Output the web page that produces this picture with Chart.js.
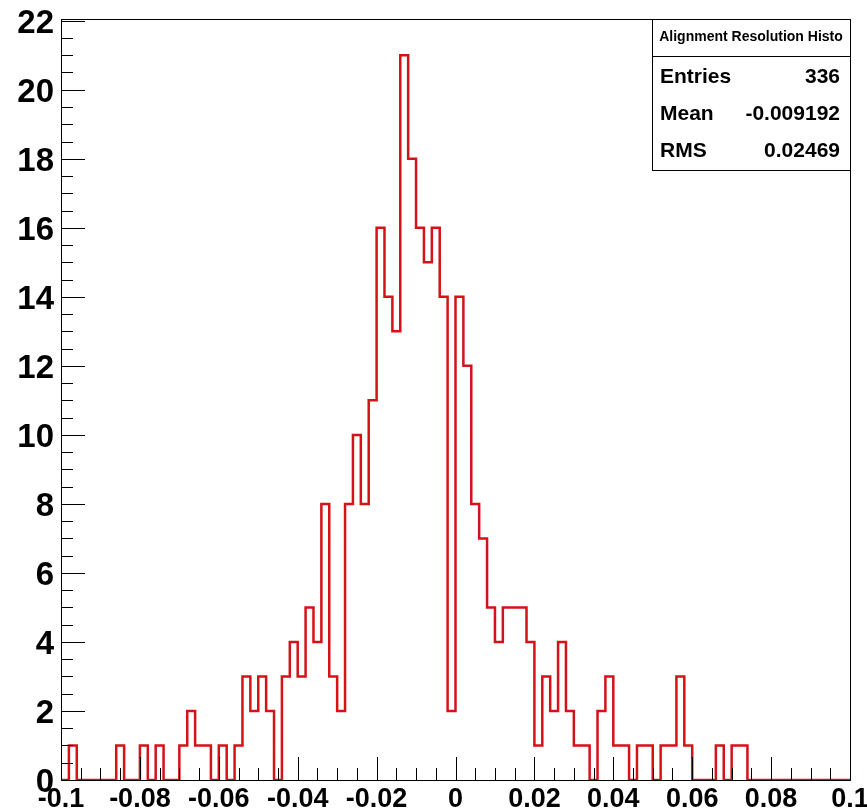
<!DOCTYPE html>
<html>
<head>
<meta charset="utf-8">
<script src="https://cdn.jsdelivr.net/npm/chart.js@4.4.0/dist/chart.umd.min.js"></script>
<style>
    html, body { margin: 0; padding: 0; background: #fff; }
    #wrap { width: 867px; height: 811px; }
</style>
</head>
<body>
<div id="wrap"><canvas id="histo"></canvas></div>
<script>
// histogram: 100 bins from -0.1 to 0.1
var binLow = -0.1;
var binWidth = 0.002;
var counts = [
    0, 1, 0, 0, 0, 0, 0, 1, 0, 0,
    1, 0, 1, 0, 0, 1, 2, 1, 1, 0,
    1, 0, 1, 3, 2, 3, 2, 0, 3, 4,
    3, 5, 4, 8, 3, 2, 8, 10, 8, 11,
    16, 14, 13, 21, 18, 16, 15, 16, 14, 2,
    14, 12, 8, 7, 5, 4, 5, 5, 5, 4,
    1, 3, 2, 4, 2, 1, 1, 0, 2, 3,
    1, 1, 0, 1, 1, 0, 1, 1, 3, 1,
    0, 0, 0, 1, 0, 1, 1, 0, 0, 0,
    0, 0, 0, 0, 0, 0, 0, 0, 0, 0
];

var xTickValues = [-0.1, -0.08, -0.06, -0.04, -0.02, 0, 0.02, 0.04, 0.06, 0.08, 0.1];
var xTickLabels = ['-0.1', '-0.08', '-0.06', '-0.04', '-0.02', '0', '0.02', '0.04', '0.06', '0.08', '0.1'];
var yTickValues = [0, 2, 4, 6, 8, 10, 12, 14, 16, 18, 20, 22];
var yTickLabels = ['0', '2', '4', '6', '8', '10', '12', '14', '16', '18', '20', '22'];
var xMinorStep = 0.005;
var yMinorStep = 0.5;

var statsTitle = 'Alignment Resolution Histo';
var statsNames = ['Entries', 'Mean', 'RMS'];
var statsValues = ['336', '-0.009192', '0.02469'];

var histoPoints = [];
for (var i = 0; i < counts.length; i++) {
    histoPoints.push({ x: binLow + i * binWidth, y: counts[i] });
}
histoPoints.push({ x: binLow + counts.length * binWidth, y: counts[counts.length - 1] });

var rootFrame = {
    id: 'rootFrame',
    afterDatasetsDraw: function (chart) {
        var ctx = chart.ctx;
        var a = chart.chartArea;
        var xs = chart.scales.x, ys = chart.scales.y;
        ctx.save();
        ctx.strokeStyle = '#000';
        ctx.lineWidth = 1;

        // ticks inside the frame
        ctx.beginPath();
        var nY = Math.round((ys.max - ys.min) / yMinorStep);
        for (var k = 0; k <= nY; k++) {
            var v = ys.min + k * yMinorStep;
            if (v > ys.max) break;
            var py = Math.round(ys.getPixelForValue(v)) + 0.5;
            var len = (k % 4 === 0) ? 24 : 12;
            ctx.moveTo(a.left, py);
            ctx.lineTo(a.left + len, py);
        }
        var nX = Math.round((xs.max - xs.min) / xMinorStep);
        for (var j = 0; j <= nX; j++) {
            var px = Math.round(xs.getPixelForValue(xs.min + j * xMinorStep)) + 0.5;
            var lenX = (j % 4 === 0) ? 23 : 12;
            ctx.moveTo(px, a.bottom);
            ctx.lineTo(px, a.bottom - lenX);
        }
        ctx.stroke();

        // frame
        ctx.strokeRect(Math.round(a.left) + 0.5, Math.round(a.top) + 0.5,
            Math.round(a.right - a.left), Math.round(a.bottom - a.top));

        // stats box
        var bx = 652, by = Math.round(a.top), bw = Math.round(a.right) - 652, bh = 151;
        ctx.fillStyle = '#fff';
        ctx.fillRect(bx, by, bw, bh);
        ctx.strokeRect(bx + 0.5, by + 0.5, bw, bh);
        ctx.beginPath();
        ctx.moveTo(bx, by + 37.5);
        ctx.lineTo(bx + bw, by + 37.5);
        ctx.stroke();

        ctx.fillStyle = '#000';
        ctx.textBaseline = 'alphabetic';
        ctx.font = 'bold 14px "Liberation Sans", Arial, sans-serif';
        ctx.textAlign = 'center';
        ctx.fillText(statsTitle, bx + bw / 2, by + 22);

        ctx.font = 'bold 21px "Liberation Sans", Arial, sans-serif';
        for (var r = 0; r < statsNames.length; r++) {
            var base = by + 64 + r * 37;
            ctx.textAlign = 'left';
            ctx.fillText(statsNames[r], bx + 8, base);
            ctx.textAlign = 'right';
            ctx.fillText(statsValues[r], bx + bw - 10, base);
        }
        ctx.restore();
    }
};

var chart = new Chart(document.getElementById('histo'), {
    type: 'line',
    data: {
        datasets: [{
            label: 'Alignment Resolution Histo',
            data: histoPoints,
            stepped: 'before',
            borderColor: '#d41218',
            borderWidth: 2.5,
            pointRadius: 0,
            fill: false,
            tension: 0
        }]
    },
    options: {
        responsive: true,
        maintainAspectRatio: false,
        animation: false,
        layout: {
            padding: { top: 19, right: 17, bottom: 0, left: 0 }
        },
        plugins: {
            legend: { display: false },
            tooltip: { enabled: false },
            title: { display: false }
        },
        scales: {
            x: {
                type: 'linear',
                min: -0.1,
                max: 0.1,
                grid: { display: false, drawTicks: false },
                border: { display: false },
                afterBuildTicks: function (scale) {
                    scale.ticks = xTickValues.map(function (v) { return { value: v }; });
                },
                afterFit: function (scale) {
                    scale.height = 31;
                    scale.paddingLeft = 0;
                    scale.paddingRight = 0;
                },
                ticks: {
                    autoSkip: false,
                    maxRotation: 0,
                    padding: 3,
                    color: '#000',
                    font: { family: '"Liberation Sans", Arial, sans-serif', size: 27, weight: 'bold' },
                    callback: function (value, index) {
                        return xTickLabels[index];
                    }
                }
            },
            y: {
                type: 'linear',
                min: 0,
                max: 22.05,
                grid: { display: false, drawTicks: false },
                border: { display: false },
                afterBuildTicks: function (scale) {
                    scale.ticks = yTickValues.map(function (v) { return { value: v }; });
                },
                afterFit: function (scale) {
                    scale.width = 61;
                    scale.paddingTop = 0;
                    scale.paddingBottom = 0;
                },
                ticks: {
                    autoSkip: false,
                    padding: 7,
                    labelOffset: 3,
                    color: '#000',
                    font: { family: '"Liberation Sans", Arial, sans-serif', size: 33, weight: 'bold' },
                    callback: function (value, index) {
                        return yTickLabels[index];
                    }
                }
            }
        }
    },
    plugins: [rootFrame]
});
</script>
</body>
</html>
